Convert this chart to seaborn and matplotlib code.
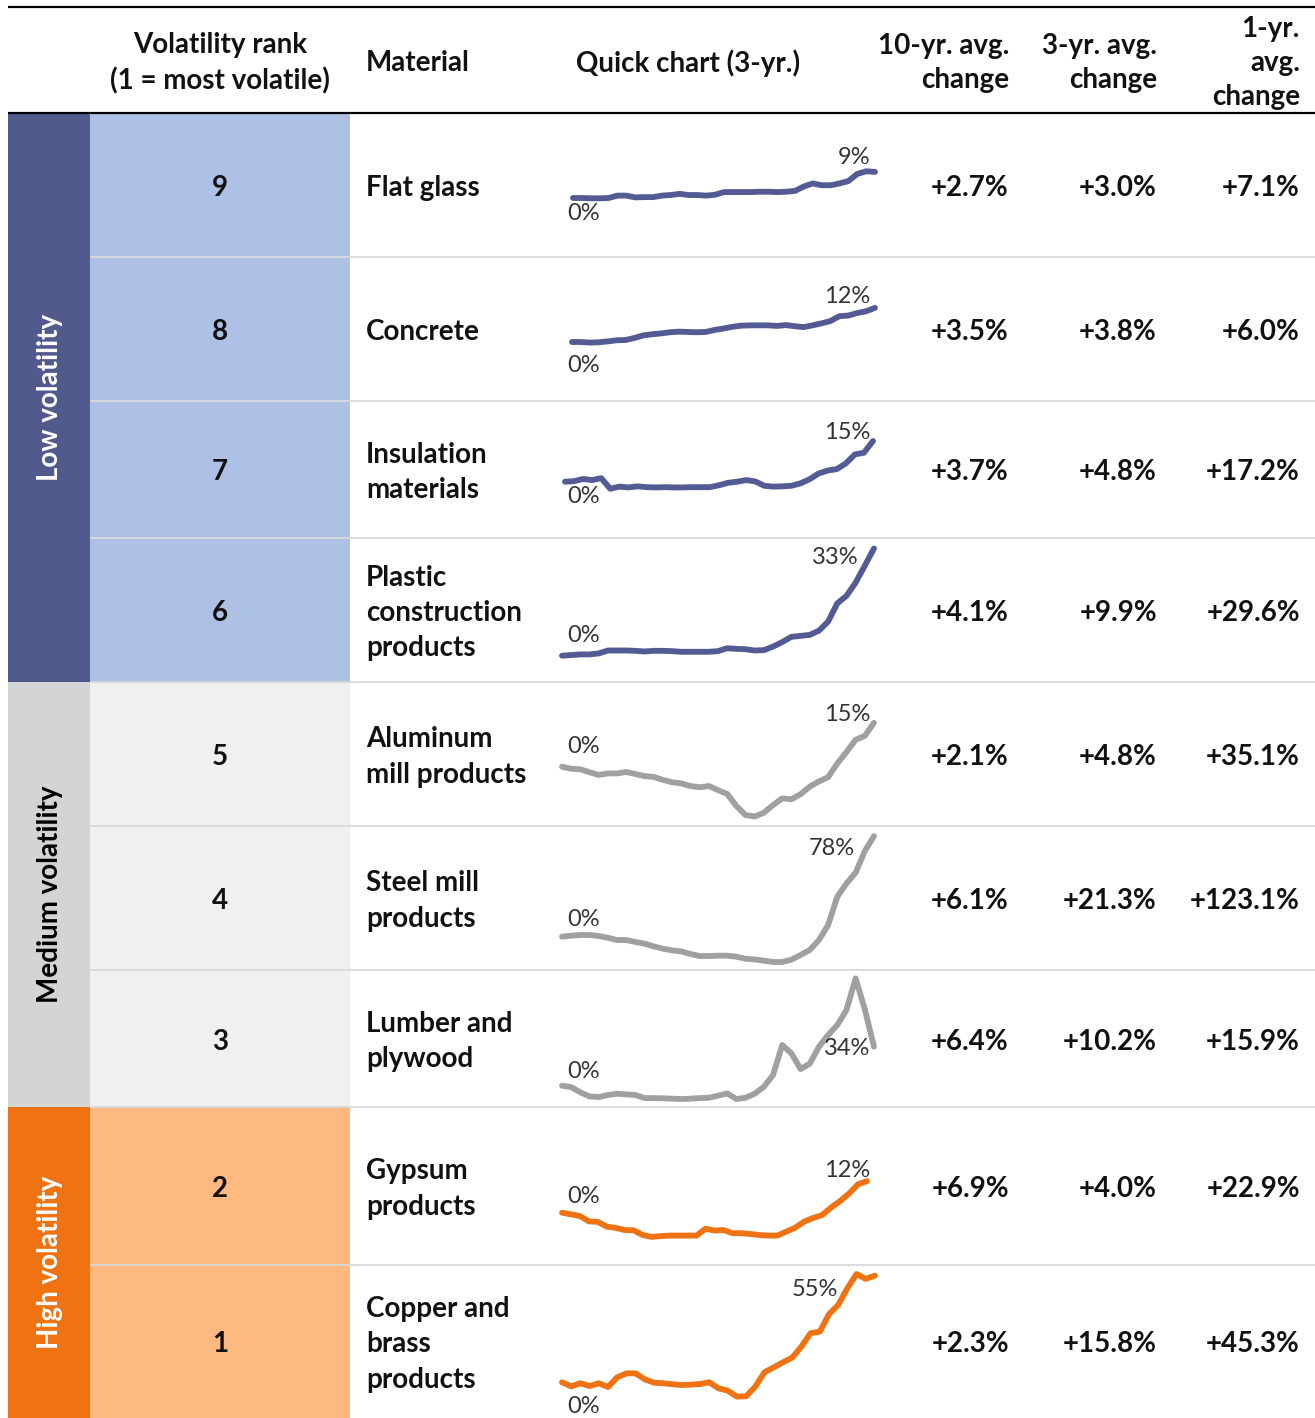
import numpy as np
import matplotlib
matplotlib.use("Agg")
import matplotlib.pyplot as plt
from matplotlib.patches import Rectangle
import seaborn as sns

# Tabellen-Daten
ranks = [9, 8, 7, 6, 5, 4, 3, 2, 1]
materials = ["Flat glass", "Concrete", "Insulation\nmaterials", "Plastic\nconstruction\nproducts",
             "Aluminum\nmill products", "Steel mill\nproducts", "Lumber and\nplywood",
             "Gypsum\nproducts", "Copper and\nbrass\nproducts"]
groups = ["Low volatility"] * 4 + ["Medium volatility"] * 3 + ["High volatility"] * 2
ten_yr = [2.7, 3.5, 3.7, 4.1, 2.1, 6.1, 6.4, 6.9, 2.3]
three_yr = [3.0, 3.8, 4.8, 9.9, 4.8, 21.3, 10.2, 4.0, 15.8]
one_yr = [7.1, 6.0, 17.2, 29.6, 35.1, 123.1, 15.9, 22.9, 45.3]

# Sparkline-Daten (kumulierte Veraenderung in %, 3 Jahre)
flat_glass = [0, 0, -0.1, -0.1, 0, 0.8, 0.8, 0.2, 0.3, 0.3, 0.8, 1.0, 1.4, 1.0, 1.0, 0.8, 1.1, 2.0,
              2.0, 2.0, 2.0, 2.1, 2.1, 2.0, 2.1, 2.4, 3.9, 4.9, 4.3, 4.3, 4.9, 5.7, 8.1, 9.0, 8.8]
concrete = [0, 0, -0.2, -0.1, 0.2, 0.6, 0.7, 1.4, 2.3, 2.7, 3.0, 3.4, 3.6, 3.5, 3.4, 3.5, 4.2, 4.7,
            5.3, 5.7, 5.8, 5.8, 5.8, 5.6, 5.9, 5.5, 5.2, 5.8, 6.5, 7.3, 9.0, 9.2, 10.1, 10.7, 11.9]
insulation = [0, 0.2, 1.0, 0.6, 1.3, -2.6, -1.8, -2.1, -1.7, -2.0, -2.1, -2.0, -2.1, -2.1, -2.0, -2.0,
              -2.0, -1.3, -0.4, 0, 0.6, 0.1, -1.5, -1.8, -1.7, -1.5, -0.6, 0.9, 3.0, 4.1, 4.6, 6.7,
              10.0, 10.6, 14.9]
plastic = [0, 0.2, 0.4, 0.4, 0.7, 1.6, 1.6, 1.6, 1.5, 1.3, 1.5, 1.5, 1.4, 1.2, 1.2, 1.2, 1.2, 1.4,
           2.3, 2.1, 2.0, 1.6, 1.7, 2.8, 4.2, 5.8, 6.1, 6.4, 7.7, 10.5, 16.1, 18.4, 22.5, 27.7, 33.0]
aluminum = [0, -0.7, -0.9, -1.9, -2.8, -2.3, -2.3, -1.8, -2.5, -3.2, -3.5, -4.5, -5.3, -5.7, -6.6,
            -7.0, -6.6, -8.0, -9.3, -13.4, -16.5, -17.0, -15.7, -13.1, -10.8, -11.1, -9.4, -6.8,
            -5.0, -3.6, 1.1, 5.0, 9.2, 10.5, 15.0]
steel = [0, 0.8, 1.3, 1.3, 0.5, -0.8, -2.6, -2.6, -4.1, -5.4, -7.5, -9.3, -10.6, -11.4, -13.4, -15.0,
         -15.0, -14.7, -14.7, -15.5, -17.1, -17.6, -18.6, -19.6, -19.6, -17.8, -14.2, -10.3, -2.6,
         9.0, 31.0, 41.3, 49.6, 66.4, 78.0]
lumber = [0, -1.2, -5.8, -9.3, -9.9, -8.1, -7.0, -7.6, -8.1, -10.8, -10.8, -11.0, -11.3, -11.6, -11.3,
          -10.8, -10.5, -8.7, -6.7, -11.6, -10.5, -7.0, -0.9, 9.3, 35.5, 28.2, 14.5, 19.2, 34.0,
          44.2, 52.9, 66.0, 93.6, 66.6, 34.0]
gypsum = [0, -0.6, -1.3, -3.3, -3.5, -5.3, -5.8, -6.6, -6.7, -8.5, -9.2, -8.9, -8.7, -8.7, -8.7, -8.7,
          -6.1, -6.8, -6.6, -7.8, -7.8, -8.1, -8.5, -8.7, -8.7, -7.2, -5.7, -3.4, -2.0, -0.9, 2.0,
          4.4, 7.3, 10.8, 12.0]
copper = [0, -2.1, -0.5, -1.9, -0.5, -2.4, 2.6, 4.6, 4.6, 1.5, -0.2, -0.5, -1.0, -1.4, -1.2, -0.9, 0,
          -3.1, -4.3, -7.4, -7.2, -2.2, 5.2, 7.7, 10.3, 12.7, 18.4, 25.3, 26.1, 35.1, 39.9, 48.5,
          55.8, 53.3, 55.0]
sparks = [flat_glass, concrete, insulation, plastic, aluminum, steel, lumber, gypsum, copper]

# Farben je Gruppe
dark_col = {"Low volatility": "#515a8c", "Medium volatility": "#d3d4d6", "High volatility": "#ef7213"}
light_col = {"Low volatility": "#adc0e6", "Medium volatility": "#f0f0f0", "High volatility": "#fdb97f"}
label_col = {"Low volatility": "white", "Medium volatility": "black", "High volatility": "white"}
line_col = {"Low volatility": "#525b93", "Medium volatility": "#a0a0a3", "High volatility": "#ef7213"}

# Layout in Pixeln
W, H = 1315, 1418
row_edges = [113, 257, 401, 538, 682, 826, 970, 1107, 1265, 1418]
spark_x = [(573, 875), (572, 875), (565, 873), (562, 874), (562, 874), (562, 874), (562, 874),
           (562, 867), (562, 875)]
spark_base = [198, 342, 481.7, 655.7, 766.7, 936.7, 1085.7, 1212.7, 1382.3]
spark_scale = [2.97, 2.87, 2.73, 3.25, 2.93, 1.29, 1.147, 2.63, 1.94]
start_dy = [15, 23, 15, -20, -20, -17, -14, -16, 24]
end_off = [(-5, -14), (-5, -11), (-3, -9), (-15, 9), (-4, -8), (-19, 12), (-4, 2), (3, -11), (-37, 14)]

sns.set_theme(style="white")
plt.rcParams['font.family'] = ['Lato', 'DejaVu Sans']

fig = plt.figure(figsize=(W / 100, H / 100), dpi=100)
ax = fig.add_axes([0, 0, 1, 1])
ax.set_xlim(0, W)
ax.set_ylim(H, 0)
ax.axis("off")

fs = 20
txt = "#111111"
hdr = dict(fontsize=fs, fontweight="bold", color=txt, linespacing=1.4)

# Kopfzeile
ax.plot([8, W], [7, 7], color="black", lw=1.6, solid_capstyle="butt")
ax.plot([8, W], [113, 113], color="black", lw=1.6, solid_capstyle="butt")
ax.text(220, 63, "Volatility rank\n(1 = most volatile)", ha="center", va="center", **hdr)
ax.text(366, 63, "Material", ha="left", va="center", **hdr)
ax.text(688, 63, "Quick chart (3-yr.)", ha="center", va="center", **hdr)
ax.text(1009, 63, "10-yr. avg.\nchange", ha="right", va="center", multialignment="right", **hdr)
ax.text(1157, 63, "3-yr. avg.\nchange", ha="right", va="center", multialignment="right", **hdr)
ax.text(1300, 63, "1-yr.\navg.\nchange", ha="right", va="center", multialignment="right", **hdr)

# Gruppenbaender
for g in ["Low volatility", "Medium volatility", "High volatility"]:
    idx = [i for i, gg in enumerate(groups) if gg == g]
    top, bot = row_edges[idx[0]], row_edges[idx[-1] + 1]
    ax.add_patch(Rectangle((8, top), 82, bot - top, color=dark_col[g], lw=0))
    ax.add_patch(Rectangle((90, top), 260, bot - top, color=light_col[g], lw=0))
    ax.text(50, (top + bot) / 2, g, rotation=90, ha="center", va="center", fontsize=fs,
            fontweight="bold", color=label_col[g])

# Zeilen
for i in range(9):
    top, bot = row_edges[i], row_edges[i + 1]
    yc = (top + bot) / 2 + 3
    if i > 0:
        ax.plot([90, W], [top, top], color="#d9d9d9", lw=1.3, solid_capstyle="butt")
    ax.text(220, yc, str(ranks[i]), ha="center", va="center", fontsize=fs, fontweight="bold", color=txt)
    ax.text(366, yc, materials[i], ha="left", va="center", fontsize=fs, fontweight="bold",
            color=txt, linespacing=1.45)
    for xr, vals in [(1009, ten_yr), (1157, three_yr), (1300, one_yr)]:
        ax.text(xr, yc, f"+{vals[i]:.1f}%", ha="right", va="center", fontsize=fs,
                fontweight="bold", color=txt)

    # Sparkline
    vals = sparks[i]
    n = len(vals)
    x0, x1 = spark_x[i]
    ppi = (x1 - x0) / (n - 1)
    L, R = 550, 890
    sax = fig.add_axes([L / W, 1 - bot / H, (R - L) / W, (bot - top) / H])
    sax.patch.set_alpha(0)
    sns.lineplot(x=np.arange(n), y=vals, ax=sax, color=line_col[groups[i]], linewidth=4.2)
    for ln in sax.lines:
        ln.set_clip_on(False)
        ln.set_solid_capstyle("round")
        ln.set_solid_joinstyle("round")
    sax.set_xlim(-(x0 - L) / ppi, (n - 1) + (R - x1) / ppi)
    s, b = spark_scale[i], spark_base[i]
    sax.set_ylim((b - bot) / s, (b - top) / s)
    sax.axis("off")
    sax.annotate("0%", xy=(0, vals[0]), xytext=((567 - x0) * 0.72, -start_dy[i] * 0.72),
                 textcoords="offset points", ha="left", va="center", fontsize=17,
                 fontweight="normal", color="#333333")
    dx, dy = end_off[i]
    sax.annotate(f"{round(vals[-1])}%", xy=(n - 1, vals[-1]), xytext=(dx * 0.72, -dy * 0.72),
                 textcoords="offset points", ha="right", va="center", fontsize=17,
                 fontweight="normal", color="#333333")

fig.savefig("out.png", dpi=100)
